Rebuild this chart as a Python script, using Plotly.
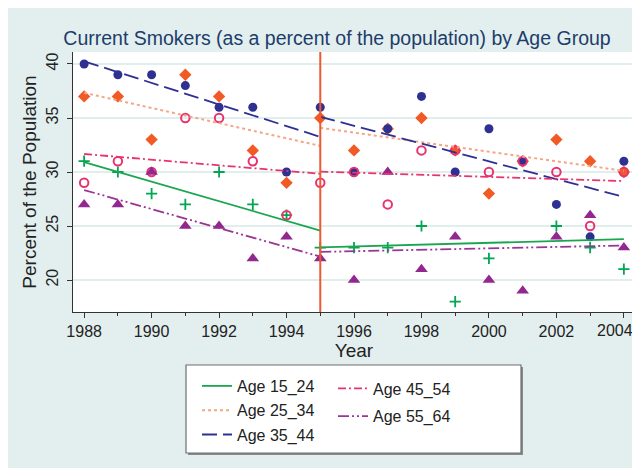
import numpy as np
import plotly.graph_objects as go

years = list(range(1988, 2005))
age_15_24 = [31, 30, 28, 27, 30, 27, 26, 23, 23, 23, 25, 18, 22, 31, 25, 23, 21]
age_25_34 = [37, 37, 33, 39, 37, 32, 29, 35, 32, 34, 35, 32, 28, 31, 33, 31, 30]
age_35_44 = [40, 39, 39, 38, 36, 36, 30, 36, 30, 34, 37, 30, 34, 31, 27, 24, 31]
age_45_54 = [29, 31, 30, 35, 35, 31, 26, 29, 30, 27, 32, 32, 30, 31, 30, 25, 30]
age_55_64 = [27, 27, 30, 25, 25, 22, 24, 22, 20, 30, 21, 24, 20, 19, 24, 26, 23]
break_year = 1995
x_tickvals = [1988, 1990, 1992, 1994, 1996, 1998, 2000, 2002, 2004]
y_tickvals = [20, 25, 30, 35, 40]

series = [
    # name, values, marker symbol, marker colour, line colour, dash, legend
    ("Age 15_24", age_15_24, "cross-thin-open", "#00a651", "#1aa64f", "solid", "legend"),
    ("Age 25_34", age_25_34, "diamond", "#f15a24", "#f6a585", "dot", "legend"),
    ("Age 35_44", age_35_44, "circle", "#2e3192", "#2e3192", "15px,6px", "legend"),
    ("Age 45_54", age_45_54, "circle-open", "#e8336e", "#e8336e", "8px,3px,2px,3px", "legend2"),
    ("Age 55_64", age_55_64, "triangle-up", "#92278f", "#9a3595", "11px,3px,2px,3px,2px,3px", "legend2"),
]

fig = go.Figure()
yrs = np.array(years, dtype=float)

# markers
for name, vals, sym, mcol, lcol, dash, leg in series:
    mk = dict(symbol=sym, color=mcol, size=9)
    if sym == "circle-open":
        mk.update(line=dict(color=mcol, width=2), size=8.5)
    elif sym == "cross-thin-open":
        mk.update(line=dict(color=mcol, width=1.8), size=8)
    elif sym == "triangle-up":
        mk.update(size=11)
    elif sym == "diamond":
        mk.update(size=9.5)
    fig.add_trace(go.Scatter(x=years, y=vals, mode="markers", marker=mk,
                             showlegend=False, hoverinfo="skip"))

# segmented linear fits
for i, (name, vals, sym, mcol, lcol, dash, leg) in enumerate(series):
    v = np.array(vals, dtype=float)
    for seg, mask in enumerate([yrs <= break_year, yrs >= break_year]):
        b, a = np.polyfit(yrs[mask], v[mask], 1)
        xs = [yrs[mask].min(), yrs[mask].max()]
        ys = [a + b * xx for xx in xs]
        fig.add_trace(go.Scatter(
            x=xs, y=ys, mode="lines", name=name,
            line=dict(color=lcol, width=1.8 if dash != "dot" else 2, dash=dash),
            showlegend=(seg == 0), legend=leg, legendgroup=name, hoverinfo="skip"))

# plot-area geometry in figure pixels (for paper-coordinate helper shapes)
L, R, T, B = 65, 627, 44, 304
W, H = R - L, B - T
px = lambda x: (x - L) / W
py = lambda y: (B - y) / H

shapes = [
    dict(type="line", xref="x", yref="paper", x0=break_year, x1=break_year, y0=0, y1=1,
         line=dict(color="#ee5a2e", width=2), layer="above"),
    # legend box with shadow
    dict(type="rect", xref="paper", yref="paper", x0=px(180), x1=px(515), y0=py(447), y1=py(359),
         fillcolor="#8a8a8a", line=dict(width=0), layer="below"),
    dict(type="rect", xref="paper", yref="paper", x0=px(178), x1=px(513), y0=py(445), y1=py(357),
         fillcolor="white", line=dict(color="#6f6f6f", width=1.2), layer="below"),
]

# last x tick label is nudged left to stay inside the graph (as in the original)
x_ticktext = [str(v) for v in x_tickvals[:-1]] + [""]
annotations = [dict(text=str(x_tickvals[-1]), xref="x", x=x_tickvals[-1], xshift=-9,
                    yref="paper", y=py(322), yanchor="middle", xanchor="center",
                    showarrow=False, font=dict(size=16, color="#222222"))]

font_family = "Liberation Sans, Arial, sans-serif"
fig.update_layout(
    width=640, height=468,
    margin=dict(l=L, r=640 - R, t=T, b=468 - B, autoexpand=False),
    paper_bgcolor="#e3efef", plot_bgcolor="white",
    font=dict(family=font_family, size=16, color="#222222"),
    title=dict(text="Current Smokers (as a percent of the population) by Age Group",
               x=329 / 640, xref="container", xanchor="center",
               y=1 - 30 / 468, yanchor="middle",
               font=dict(size=19.5, color="#1d3d6b")),
    shapes=shapes,
    annotations=annotations,
    legend=dict(x=px(189), y=py(361), xanchor="left", yanchor="top",
                bgcolor="rgba(0,0,0,0)", borderwidth=0, tracegroupgap=0.5,
                itemwidth=30, font=dict(size=16)),
    legend2=dict(x=px(325), y=py(363.5), xanchor="left", yanchor="top",
                 bgcolor="rgba(0,0,0,0)", borderwidth=0, tracegroupgap=4,
                 itemwidth=30, font=dict(size=16)),
    xaxis=dict(range=[1987.67, 2004.33], tickvals=x_tickvals, ticktext=x_ticktext,
               ticks="outside",
               ticklen=5, tickwidth=1, tickcolor="#333", showline=True, linecolor="#333",
               linewidth=1, showgrid=False, zeroline=False, automargin=False,
               minor=dict(dtick=1, tick0=1988, ticks="outside", ticklen=3, tickcolor="#333",
                          showgrid=False),
               title=dict(text="Year", standoff=0), tickfont=dict(size=16)),
    yaxis=dict(range=[17.04, 41.11], tickvals=y_tickvals, ticks="outside", ticklen=5,
               tickwidth=1, tickcolor="#333", showline=True, linecolor="#333", linewidth=1,
               showgrid=True, gridcolor="#e1eeee", gridwidth=2, zeroline=False,
               automargin=False, tickangle=-90, ticklabelstandoff=3,
               title=dict(text="Percent of the Population", standoff=1),
               tickfont=dict(size=16)),
)

fig.write_html("out.html")
